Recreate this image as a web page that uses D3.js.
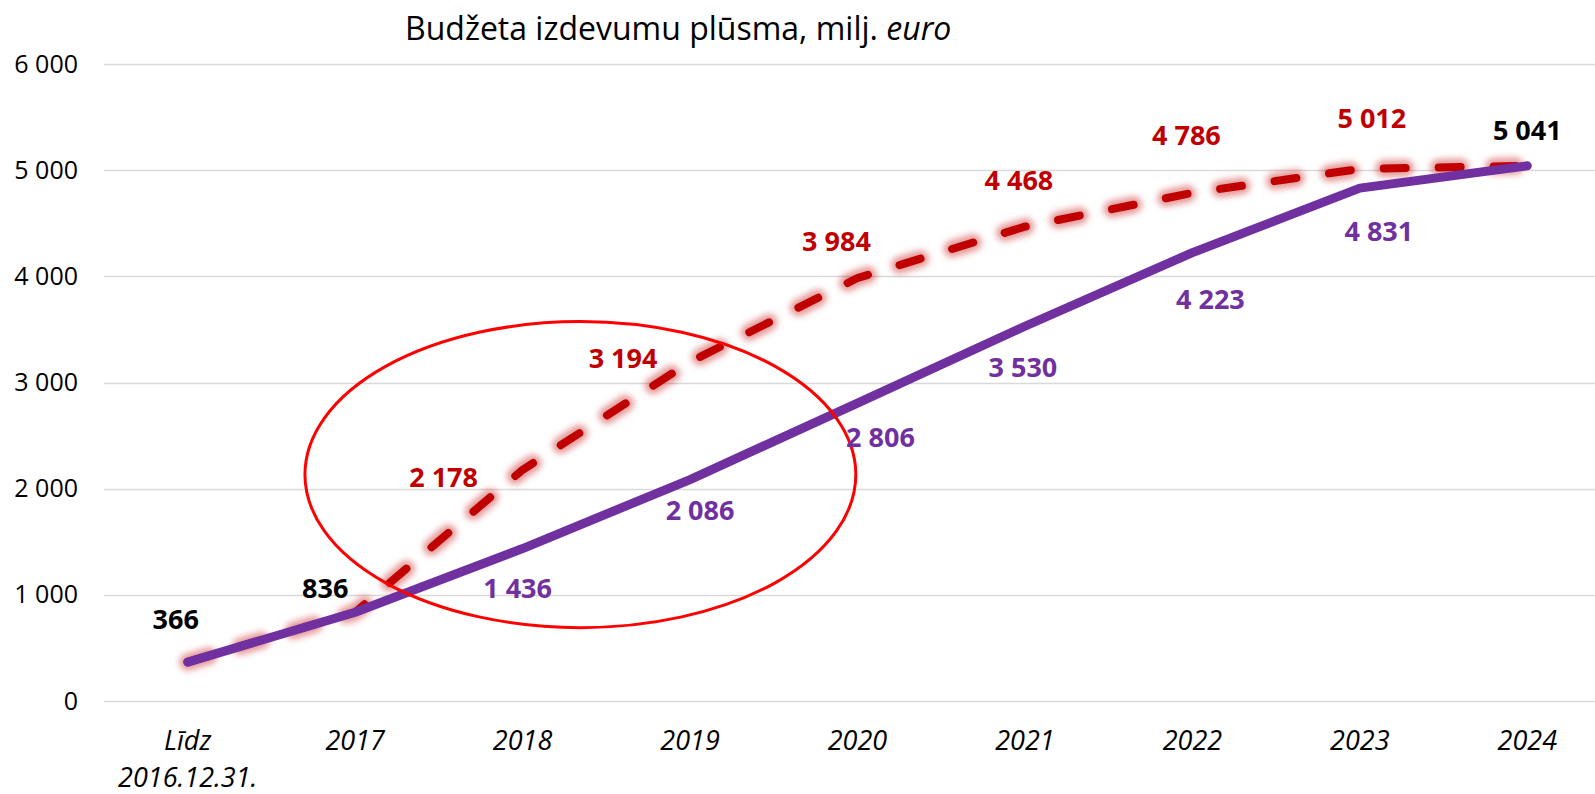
<!DOCTYPE html>
<html>
<head>
<meta charset="utf-8">
<script src="https://cdn.jsdelivr.net/npm/d3@7"></script>
<style>
  html, body { margin: 0; padding: 0; background: #fff; }
  svg { display: block; }
  text { font-family: "Open Sans", "Noto Sans", sans-serif; }
</style>
</head>
<body>
<svg id="chart" width="1595" height="794"></svg>
<script>
// ---- data ----
const title = "Budžeta izdevumu plūsma, milj. ";
const titleItalic = "euro";
const categories = ["Līdz 2016.12.31.", "2017", "2018", "2019", "2020", "2021", "2022", "2023", "2024"];
const categoryLines = [["Līdz", "2016.12.31."], ["2017"], ["2018"], ["2019"], ["2020"], ["2021"], ["2022"], ["2023"], ["2024"]];
const planned = [366, 836, 2178, 3194, 3984, 4468, 4786, 5012, 5041];
const actual  = [366, 836, 1436, 2086, 2806, 3530, 4223, 4831, 5041];
const yTicks = [0, 1000, 2000, 3000, 4000, 5000, 6000];
// indices where both series share a value (labelled once, in black)
const sharedIdx = [0, 1, 8];
// highlighted region (in category-index and value units)
const highlight = { fromIdx: 0.70, toIdx: 3.99, fromVal: 691, toVal: 3574 };

// ---- layout (label offsets in px, separate from data) ----
const sharedOffsets = { 0: [-12, -43], 1: [-30, -24], 8: [0, -36] };
const plannedOffsets = { 2: [-79, 8], 3: [-67, -4], 4: [-21, -37], 5: [-6, -46], 6: [-6, -58], 7: [12, -51] };
const actualOffsets  = { 2: [-5, 40], 3: [10, 31], 4: [23, 34], 5: [-2, 41], 6: [18, 47], 7: [19, 43] };

const W = 1595, H = 794;
const svg = d3.select("#chart");
const locale = d3.formatLocale({ decimal: ",", thousands: "\u00a0", grouping: [3], currency: ["", "€"] });
const fmt = locale.format(",d");

const x = d3.scalePoint().domain(categories).range([104, 1611]).padding(0.5);
const xIdx = d3.scaleLinear().domain([0, categories.length - 1]).range([x(categories[0]), x(categories[categories.length - 1])]);
const y = d3.scaleLinear().domain([0, 6000]).range([701, 64]);

// defs: glow filter
const defs = svg.append("defs");
const f = defs.append("filter").attr("id", "glow").attr("x", "-20%").attr("y", "-20%").attr("width", "140%").attr("height", "140%");
f.append("feGaussianBlur").attr("stdDeviation", 3);

// gridlines
svg.append("g").selectAll("line").data(yTicks).join("line")
  .attr("x1", 104).attr("x2", W)
  .attr("y1", d => Math.round(y(d)) + 0.5).attr("y2", d => Math.round(y(d)) + 0.5)
  .attr("stroke", "#d9d9d9").attr("stroke-width", 1.5);

// y axis labels
const yAxis = d3.axisLeft(y).tickValues(yTicks).tickFormat(fmt).tickSize(0).tickPadding(0);
const gy = svg.append("g").attr("transform", "translate(78,0)").call(yAxis);
gy.select(".domain").remove();
gy.selectAll("text").attr("font-size", 25).attr("fill", "#000").attr("font-family", "\"Open Sans\", sans-serif");

// x axis labels
const gx = svg.append("g");
categories.forEach((c, i) => {
  const t = gx.append("text")
    .attr("x", x(c)).attr("y", 750)
    .attr("text-anchor", "middle")
    .attr("font-size", 27).attr("font-style", "italic").attr("fill", "#000");
  categoryLines[i].forEach((ln, j) => {
    t.append("tspan").attr("x", x(c)).attr("dy", j === 0 ? 0 : 37).text(ln);
  });
});

// title
const tt = svg.append("text").attr("x", 405).attr("y", 40).attr("font-size", 32).attr("fill", "#000");
tt.append("tspan").text(title);
tt.append("tspan").attr("font-style", "italic").text(titleItalic);

// lines
const line = d3.line().x((d, i) => x(categories[i])).y(d => y(d));
const dash = "22 33";
svg.append("path").datum(planned).attr("d", line)
  .attr("fill", "none").attr("stroke", "#c00000").attr("stroke-opacity", 0.4)
  .attr("stroke-width", 17).attr("stroke-linecap", "round").attr("stroke-linejoin", "round")
  .attr("stroke-dasharray", dash).attr("filter", "url(#glow)");
svg.append("path").datum(planned).attr("d", line)
  .attr("fill", "none").attr("stroke", "#c00000")
  .attr("stroke-width", 8).attr("stroke-linecap", "round").attr("stroke-linejoin", "round")
  .attr("stroke-dasharray", dash);
svg.append("path").datum(actual).attr("d", line)
  .attr("fill", "none").attr("stroke", "#7030a0")
  .attr("stroke-width", 9).attr("stroke-linecap", "round").attr("stroke-linejoin", "round");

// highlight ellipse
svg.append("ellipse")
  .attr("cx", (xIdx(highlight.fromIdx) + xIdx(highlight.toIdx)) / 2)
  .attr("cy", (y(highlight.fromVal) + y(highlight.toVal)) / 2)
  .attr("rx", (xIdx(highlight.toIdx) - xIdx(highlight.fromIdx)) / 2)
  .attr("ry", (y(highlight.fromVal) - y(highlight.toVal)) / 2)
  .attr("fill", "none").attr("stroke", "#ff0000").attr("stroke-width", 3);

// data labels
const lbl = svg.append("g").attr("font-size", 27).attr("font-weight", "bold").attr("text-anchor", "middle");
function addLabel(i, v, off, color) {
  lbl.append("text")
    .attr("x", x(categories[i]) + off[0])
    .attr("y", y(v) + off[1])
    .attr("dy", "0.36em")
    .attr("fill", color)
    .text(fmt(v));
}
sharedIdx.forEach(i => addLabel(i, actual[i], sharedOffsets[i], "#000"));
planned.forEach((v, i) => { if (!sharedIdx.includes(i)) addLabel(i, v, plannedOffsets[i], "#c00000"); });
actual.forEach((v, i) => { if (!sharedIdx.includes(i)) addLabel(i, v, actualOffsets[i], "#7030a0"); });
</script>
</body>
</html>
